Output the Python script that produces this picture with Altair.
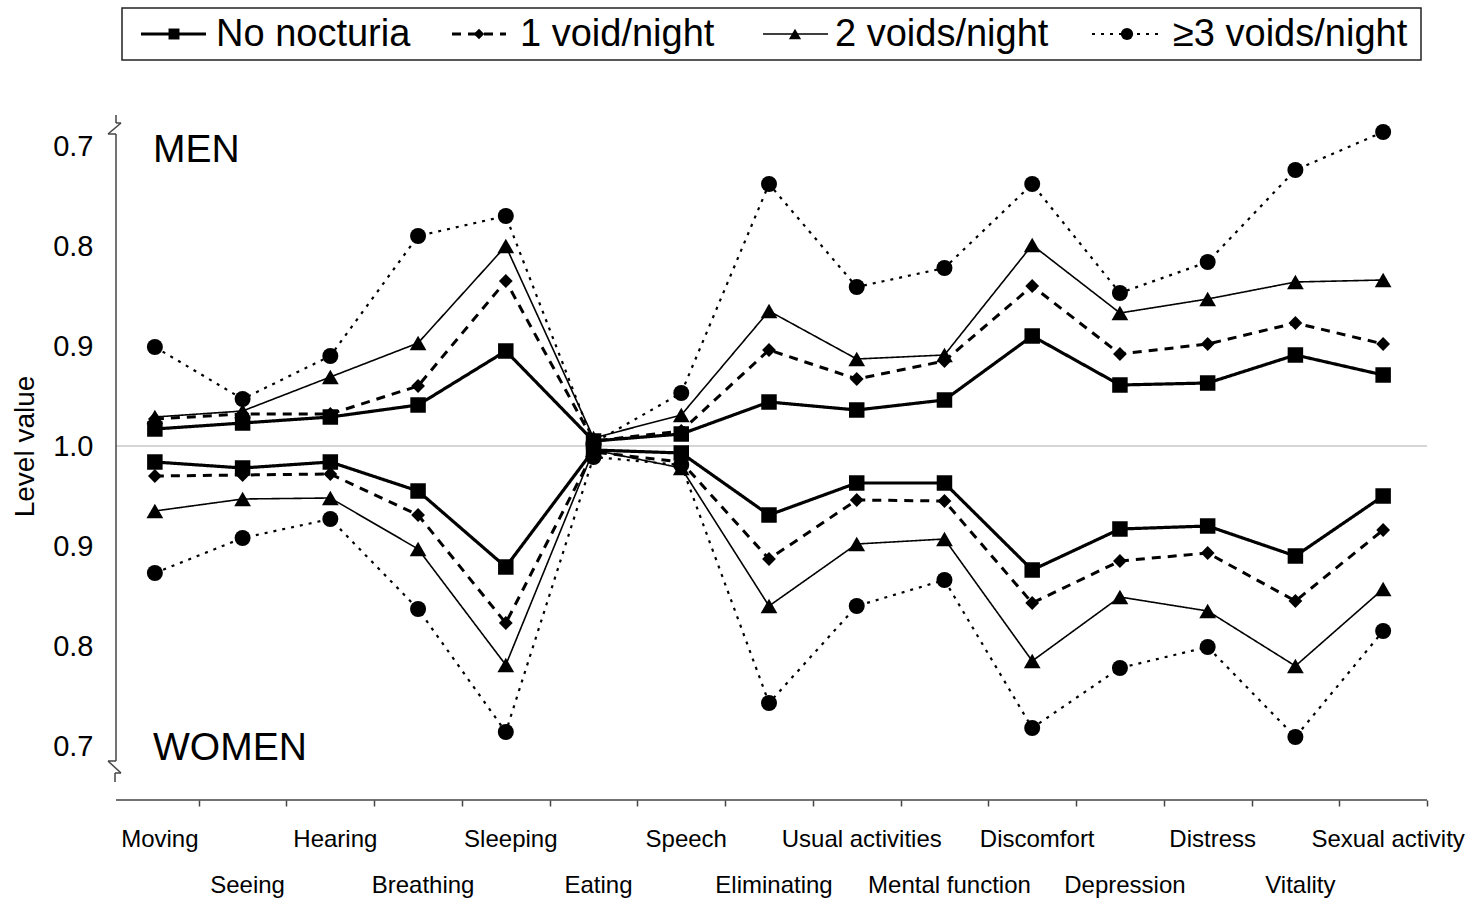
import altair as alt
import pandas as pd

# EQ-5D-style health domains on the x axis
domains = ["Moving", "Seeing", "Hearing", "Breathing", "Sleeping", "Eating",
           "Speech", "Eliminating", "Usual activities", "Mental function",
           "Discomfort", "Depression", "Distress", "Vitality", "Sexual activity"]
groups = ["No nocturia", "1 void/night", "2 voids/night", "≥3 voids/night"]

# Mean level values per domain (men plotted upwards, women downwards)
men_none = [0.983, 0.977, 0.971, 0.959, 0.905, 0.995, 0.988, 0.956, 0.964, 0.954, 0.890, 0.939, 0.937, 0.909, 0.929]
men_one = [0.973, 0.968, 0.968, 0.940, 0.835, 0.995, 0.985, 0.904, 0.933, 0.915, 0.840, 0.908, 0.898, 0.877, 0.898]
men_two = [0.971, 0.965, 0.931, 0.897, 0.800, 0.992, 0.969, 0.865, 0.913, 0.909, 0.799, 0.867, 0.853, 0.836, 0.834]
men_three = [0.901, 0.953, 0.910, 0.790, 0.770, 0.997, 0.947, 0.738, 0.841, 0.822, 0.738, 0.847, 0.816, 0.724, 0.686]

women_none = [0.984, 0.978, 0.984, 0.955, 0.879, 0.996, 0.993, 0.931, 0.963, 0.963, 0.876, 0.917, 0.920, 0.890, 0.950]
women_one = [0.970, 0.971, 0.972, 0.931, 0.823, 0.994, 0.984, 0.887, 0.946, 0.945, 0.843, 0.885, 0.893, 0.845, 0.916]
women_two = [0.935, 0.947, 0.948, 0.897, 0.781, 0.996, 0.978, 0.840, 0.902, 0.907, 0.785, 0.849, 0.835, 0.780, 0.857]
women_three = [0.873, 0.908, 0.927, 0.837, 0.714, 0.989, 0.981, 0.743, 0.840, 0.866, 0.718, 0.778, 0.799, 0.709, 0.815]

y_ticks = [0.7, 0.8, 0.9, 1.0, 1.1, 1.2, 1.3]

series = {
    ("Men", groups[0]): men_none, ("Men", groups[1]): men_one,
    ("Men", groups[2]): men_two, ("Men", groups[3]): men_three,
    ("Women", groups[0]): women_none, ("Women", groups[1]): women_one,
    ("Women", groups[2]): women_two, ("Women", groups[3]): women_three,
}

rows = []
for (sex, grp), vals in series.items():
    for i, v in enumerate(vals):
        rows.append({"sex": sex, "group": grp, "idx": i, "domain": domains[i], "value": v})
df = pd.DataFrame(rows)

FONT = "Liberation Sans"
AXIS_GREY = "#444444"

# line / marker styling per group
style = {
    groups[0]: dict(width=3.2, dash=[1, 0], shape="square", size=240, lsize=120),
    groups[1]: dict(width=3.0, dash=[9, 7], shape="diamond", size=190, lsize=110),
    groups[2]: dict(width=1.6, dash=[1, 0], shape="triangle-up", size=280, lsize=150),
    groups[3]: dict(width=2.2, dash=[3, 6], shape="circle", size=256, lsize=150),
}

xscale = alt.Scale(domain=[-0.5, 14.5], nice=False, zero=False)
yscale = alt.Scale(domain=[0.646, 1.336], nice=False, zero=False)

# men are mirrored above the 1.0 line
POS = "datum.sex == 'Men' ? 2 - datum.value : datum.value"

x_axis = alt.Axis(values=[i + 0.5 for i in range(15)], labels=False, title=None,
                  grid=False, domain=False,
                  tickColor=AXIS_GREY, tickWidth=1.5, tickSize=6)
y_axis = alt.Axis(values=y_ticks,
                  labelExpr="datum.value > 1.05 ? format(2 - datum.value, '.1f') : format(datum.value, '.1f')",
                  domain=False, ticks=False, tickSize=0, grid=False,
                  labelFont=FONT, labelFontSize=29, labelColor="black", labelPadding=18,
                  title="Level value", titleFont=FONT, titleFontSize=28,
                  titleFontWeight="normal", titleColor="black",
                  titleX=-86, titleY=336, titleAngle=270,
                  titleAlign="center", titleBaseline="middle")

X = alt.X("idx:Q", scale=xscale, axis=x_axis)
Y = alt.Y("pos:Q", scale=yscale, axis=y_axis)

layers = []

one = pd.DataFrame({"k": [0]})

# 1.0 reference line
ref = pd.DataFrame({"pos": [1.0]})
layers.append(
    alt.Chart(ref).mark_rule(color="#c8c8c8", strokeWidth=1.5).encode(
        y=Y, x=alt.value(5), x2=alt.value(1316))
)

# x axis baseline, starting at the y axis
layers.append(
    alt.Chart(one).mark_rule(color=AXIS_GREY, strokeWidth=1.5).encode(
        x=alt.value(5), x2=alt.value(1316), y=alt.value(690))
)

for grp in reversed(groups):
    st = style[grp]
    sub = df[df.group == grp]
    base = alt.Chart(sub).transform_calculate(pos=POS)
    line = base.mark_line(color="black", strokeWidth=st["width"], strokeDash=st["dash"]).encode(
        x=X, y=Y, detail="sex:N", order="idx:Q",
    )
    pts = base.mark_point(filled=True, shape=st["shape"], size=st["size"],
                          color="black", opacity=1).encode(x=X, y=Y)
    layers += [line, pts]

# category labels in two staggered rows
lab = pd.DataFrame({"idx": list(range(15)), "domain": domains})
for parity, ypx in ((0, 730), (1, 776)):
    layers.append(
        alt.Chart(lab).transform_filter(f"datum.idx % 2 == {parity}").mark_text(
            font=FONT, fontSize=24, color="black", baseline="middle", align="center", dx=5
        ).encode(x=X, y=alt.value(ypx), text="domain:N")
    )

# y axis line with break marks at both ends
axis_segments = [
    (5, 5, 5, 13), (5, 10, 13, 13), (10, -3, 13, 24), (-3, 5, 24, 24),
    (5, 5, 24, 651),
    (5, -3, 651, 651), (-3, 10, 651, 663), (10, 4, 663, 663), (4, 4, 663, 672),
]
for x1, x2, y1, y2 in axis_segments:
    layers.append(
        alt.Chart(one).mark_rule(color=AXIS_GREY, strokeWidth=1.5).encode(
            x=alt.value(x1), x2=alt.value(x2), y=alt.value(y1), y2=alt.value(y2))
    )

# panel captions
for txt, ypx in (("MEN", 52), ("WOMEN", 650)):
    layers.append(
        alt.Chart(one).mark_text(font=FONT, fontSize=39, color="black",
                                 align="left", baseline="alphabetic", text=txt).encode(
            x=alt.value(42), y=alt.value(ypx))
    )

# legend box across the top
layers.append(
    alt.Chart(one).mark_rect(fill="white", stroke="#222222", strokeWidth=1.5).encode(
        x=alt.value(11), x2=alt.value(1310), y=alt.value(-102), y2=alt.value(-50))
)
legend_pos = {  # line start, line end, marker, text start (plot-relative px)
    groups[0]: (30, 95, 63, 105),
    groups[1]: (341, 395, 368, 409),
    groups[2]: (652, 717, 684, 724),
    groups[3]: (981, 1049, 1016, 1062),
}
LEG_Y = -76
for grp in groups:
    st = style[grp]
    l1, l2, m, t = legend_pos[grp]
    layers.append(
        alt.Chart(one).mark_rule(color="black", strokeWidth=st["width"], strokeDash=st["dash"]).encode(
            x=alt.value(l1), x2=alt.value(l2), y=alt.value(LEG_Y))
    )
    layers.append(
        alt.Chart(one).mark_point(filled=True, shape=st["shape"], size=st["lsize"],
                                  color="black", opacity=1).encode(
            x=alt.value(m), y=alt.value(LEG_Y))
    )
    layers.append(
        alt.Chart(one).mark_text(font=FONT, fontSize=38, color="black", align="left",
                                 baseline="middle", text=grp).encode(
            x=alt.value(t), y=alt.value(LEG_Y + 1))
    )

chart = alt.layer(*layers).properties(
    width=1316, height=690,
    autosize=alt.AutoSizeParams(type="none"),
    padding={"left": 111, "top": 110, "right": 48, "bottom": 103},
    background="white",
).configure_view(stroke=None)

chart.save("out.html", embed_options={"renderer": "svg", "actions": False})
